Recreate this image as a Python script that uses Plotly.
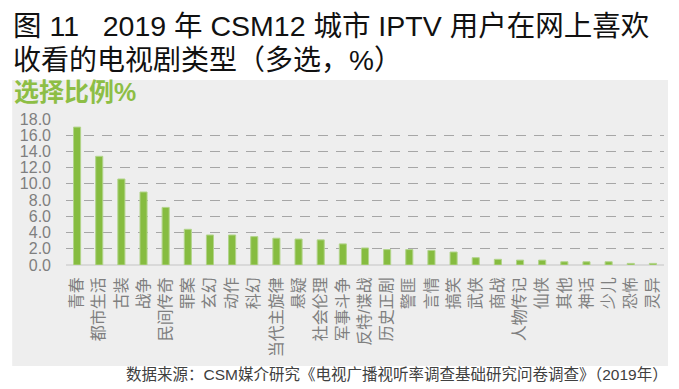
import plotly.graph_objects as go

categories = ["青春", "都市生活", "古装", "战争", "民间传奇", "罪案", "玄幻", "动作", "科幻",
              "当代主旋律", "悬疑", "社会伦理", "军事斗争", "反特/谍战", "历史正剧", "警匪", "言情",
              "搞笑", "武侠", "商战", "人物传记", "仙侠", "其他", "神话", "少儿", "恐怖", "灵异"]
values = [17.0, 13.4, 10.6, 9.0, 7.1, 4.4, 3.7, 3.7, 3.5,
          3.3, 3.2, 3.1, 2.6, 2.1, 1.9, 1.9, 1.8,
          1.6, 0.9, 0.7, 0.6, 0.6, 0.4, 0.4, 0.4, 0.2, 0.2]
y_ticks = [0, 2, 4, 6, 8, 10, 12, 14, 16, 18]
title_line1 = "图 11\u00a0\u00a0 2019 年 CSM12 城市 IPTV 用户在网上喜欢"
title_line2 = "收看的电视剧类型（多选，%）"
axis_title = "选择比例%"
source_text = "数据来源：CSM媒介研究《电视广播视听率调查基础研究问卷调查》（2019年）"

FONT = "Arial, 'Liberation Sans', 'Noto Sans CJK SC', sans-serif"

# page body has an 8px margin: figure coordinates = screen - 8
W, H = 671, 381
L, R, T, B = 56, 15, 111, 124
pw = W - L - R
ph = H - T - B

def px(x):
    return (x - L) / pw

def py(y):
    return (H - B - y) / ph

fig = go.Figure()
fig.add_trace(go.Bar(
    x=categories, y=values,
    marker=dict(color="#86BC40", line=dict(color="#B2D48A", width=1)),
    width=0.32,
))

fig.add_shape(type="rect", xref="paper", yref="paper",
              x0=px(2), x1=px(660), y0=py(358), y1=py(72),
              fillcolor="#EEEEEE", line=dict(width=0), layer="below")

fig.add_annotation(text=title_line1, xref="paper", yref="paper", x=px(1), y=py(0),
                   xanchor="left", yanchor="top", showarrow=False,
                   font=dict(family=FONT, size=28.5, color="#111111"))
fig.add_annotation(text=title_line2, xref="paper", yref="paper", x=px(1), y=py(53),
                   xanchor="left", yanchor="middle", showarrow=False,
                   font=dict(family=FONT, size=28, color="#111111"))
fig.add_annotation(text="<b>" + axis_title + "</b>", xref="paper", yref="paper", x=px(2), y=py(84),
                   xanchor="left", yanchor="middle", showarrow=False,
                   font=dict(family=FONT, size=25, color="#8DBE45"))
fig.add_annotation(text=source_text, xref="paper", yref="paper", x=px(662), y=py(366),
                   xanchor="right", yanchor="middle", showarrow=False,
                   font=dict(family=FONT, size=15.5, color="#404040"))

fig.update_layout(
    width=W, height=H,
    margin=dict(l=L, r=R, t=T, b=B, pad=0),
    paper_bgcolor="white", plot_bgcolor="rgba(0,0,0,0)",
    showlegend=False,
    bargap=0.67,
    font=dict(family=FONT),
)
fig.update_xaxes(
    type="category", range=[-0.5, 26.5],
    tickangle=-90, ticks="", ticklabelstandoff=8,
    tickfont=dict(family=FONT, size=16, color="#7F7F7F"),
    showgrid=False, showline=False, zeroline=False,
)
fig.update_yaxes(
    range=[0, 18], tickvals=y_ticks, tickformat=".1f",
    ticks="", ticklabelstandoff=14,
    tickfont=dict(family=FONT, size=16, color="#7F7F7F"),
    showgrid=True, gridcolor="#A6A6A6", gridwidth=1, griddash="10px,8px",
    zeroline=True, zerolinecolor="#D9D9D9", zerolinewidth=2,
    showline=False,
)

fig.write_html("out.html")
